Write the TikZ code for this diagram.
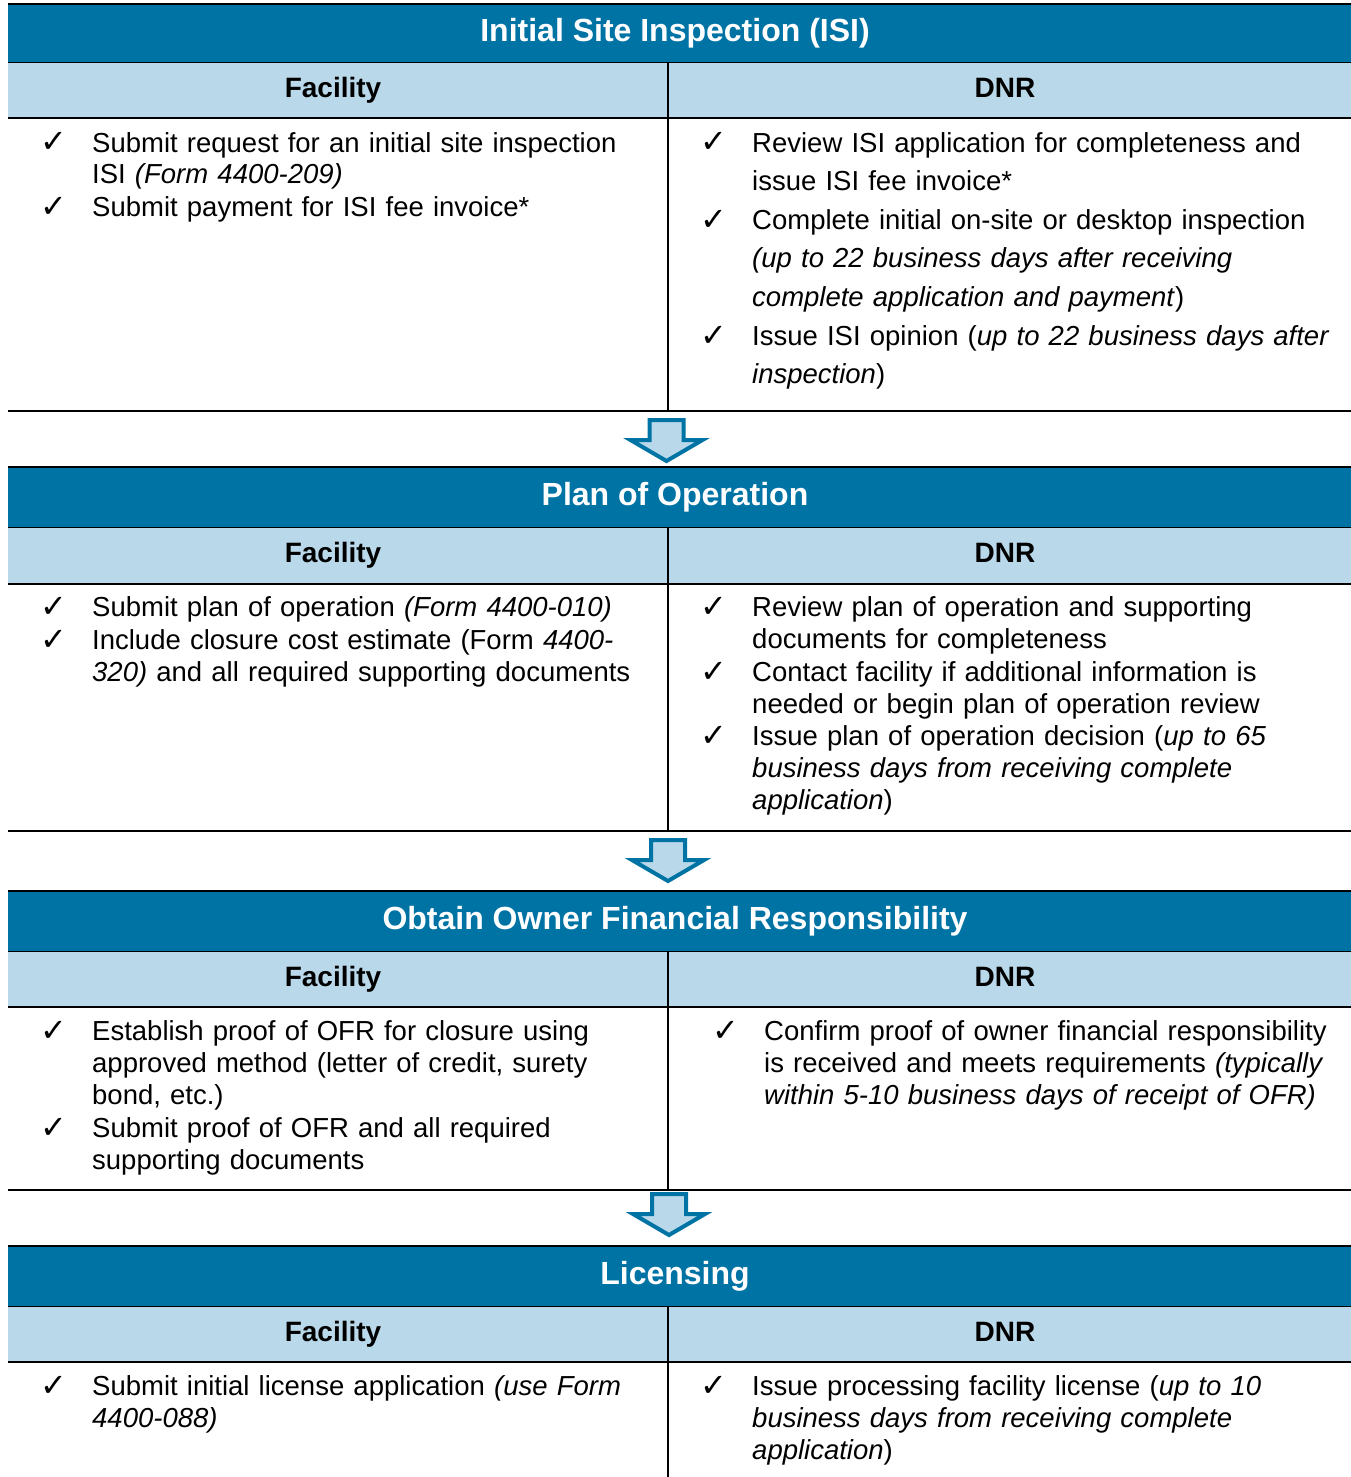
\documentclass[tikz,border=0pt]{standalone}
\usepackage{fontspec}
\setmainfont{Liberation Sans}
\newfontfamily\symfont{DejaVu Sans}
\usetikzlibrary{positioning}

\definecolor{headblue}{RGB}{0,115,165}
\definecolor{subblue}{RGB}{185,217,234}

\begin{document}
\begin{tikzpicture}[x=1pt,y=-1pt,
  title node/.style={text=white,font=\fontsize{32}{38}\selectfont\bfseries,inner sep=0pt,anchor=base},
  col node/.style={font=\fontsize{28}{32}\selectfont\bfseries,inner sep=0pt,anchor=base},
  item node/.style={font=\fontsize{27.5}{32}\selectfont,inner sep=0pt,anchor=base west,text width=600pt,align=left},
  loose item/.style={item node,font=\fontsize{27.5}{38.7}\selectfont},
  check node/.style={font={\symfont\fontsize{32}{32}\selectfont},inner sep=0pt,base left=24pt of #1,yshift=-1pt},
  flow arrow/.style={draw=headblue,fill=subblue,line width=4pt,line join=miter}]

  \useasboundingbox (0,0) rectangle (1351,1477);

  % bands and rules of the four tables
  \foreach \t/\m/\s in {4/63/118, 467/527/584, 891/951/1007, 1246/1306/1362} {
    \fill[headblue] (8,\t) rectangle (1351,\m);
    \fill[subblue] (8,\m) rectangle (1351,\s);
    \draw[line width=2.5pt] (8,\t) -- (1351,\t);
    \draw[line width=1pt] (8,\m) -- (1351,\m);
    \draw[line width=2pt] (8,\s) -- (1351,\s);
  }
  \foreach \m/\b in {63/411, 527/831, 951/1190, 1306/1477}
    \draw[line width=2pt] (668,\m) -- (668,\b);
  \foreach \b in {411, 831, 1190}
    \draw[line width=2pt] (8,\b) -- (1351,\b);

  % headers
  \node[title node] (isi) at (675,41.5) {Initial Site Inspection (ISI)};
  \node[title node] (plan) at (675,505.5) {Plan of Operation};
  \node[title node] (ofr) at (675,929.5) {Obtain Owner Financial Responsibility};
  \node[title node] (lic) at (675,1284.5) {Licensing};

  \node[col node] (isi-fac) at (333,98) {Facility};
  \node[col node] (isi-dnr) at (1005,98) {DNR};
  \node[col node] (plan-fac) at (333,562) {Facility};
  \node[col node] (plan-dnr) at (1005,562) {DNR};
  \node[col node] (ofr-fac) at (333,986) {Facility};
  \node[col node] (ofr-dnr) at (1005,986) {DNR};
  \node[col node] (lic-fac) at (333,1341) {Facility};
  \node[col node] (lic-dnr) at (1005,1341) {DNR};

  % initial site inspection
  \node[item node] (isi-f1) at (92,152) {Submit request for an initial site inspection\\ISI \textit{(Form 4400-209)}};
  \node[item node] (isi-f2) at (92,216) {Submit payment for ISI fee invoice*};
  \node[loose item] (isi-d1) at (752,152) {Review ISI application for completeness and\\issue ISI fee invoice*};
  \node[loose item] (isi-d2) at (752,229) {Complete initial on-site or desktop inspection\\\textit{(up to 22 business days after receiving}\\\textit{complete application and payment})};
  \node[loose item] (isi-d3) at (752,345) {Issue ISI opinion (\textit{up to 22 business days after}\\\textit{inspection})};

  % plan of operation
  \node[item node] (plan-f1) at (92,616) {Submit plan of operation \textit{(Form 4400-010)}};
  \node[item node] (plan-f2) at (92,649) {Include closure cost estimate (Form \textit{4400-}\\\textit{320)} and all required supporting documents};
  \node[item node] (plan-d1) at (752,616) {Review plan of operation and supporting\\documents for completeness};
  \node[item node] (plan-d2) at (752,681) {Contact facility if additional information is\\needed or begin plan of operation review};
  \node[item node] (plan-d3) at (752,745) {Issue plan of operation decision (\textit{up to 65}\\\textit{business days from receiving complete}\\\textit{application})};

  % owner financial responsibility
  \node[item node] (ofr-f1) at (92,1040) {Establish proof of OFR for closure using\\approved method (letter of credit, surety\\bond, etc.)};
  \node[item node] (ofr-f2) at (92,1137) {Submit proof of OFR and all required\\supporting documents};
  \node[item node] (ofr-d1) at (764,1040) {Confirm proof of owner financial responsibility\\is received and meets requirements \textit{(typically}\\\textit{within 5-10 business days of receipt of OFR)}};

  % licensing
  \node[item node] (lic-f1) at (92,1395) {Submit initial license application \textit{(use Form}\\\textit{4400-088)}};
  \node[item node] (lic-d1) at (752,1395) {Issue processing facility license (\textit{up to 10}\\\textit{business days from receiving complete}\\\textit{application})};

  % check marks in front of every item
  \foreach \i in {isi-f1,isi-f2,isi-d1,isi-d2,isi-d3,plan-f1,plan-f2,plan-d1,plan-d2,plan-d3,ofr-f1,ofr-f2,ofr-d1,lic-f1,lic-d1}
    \node[check node=\i] (\i-chk) {✓};

  % block arrows between the steps
  \foreach \x/\y in {666.5/418, 668/838, 669/1192}
    \draw[flow arrow] (\x-17,\y+2) -- ++(34,0) -- ++(0,20) -- ++(19,0)
      -- (\x,\y+43) -- (\x-36,\y+22) -- ++(19,0) -- cycle;
\end{tikzpicture}
\end{document}
